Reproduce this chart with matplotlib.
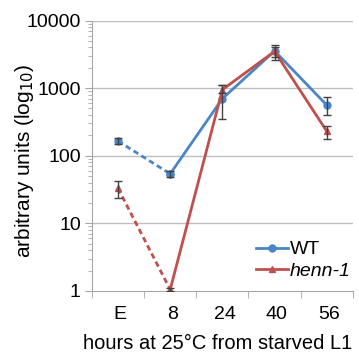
import matplotlib
matplotlib.use("Agg")
import matplotlib.pyplot as plt
import numpy as np
from matplotlib.ticker import FixedLocator, NullFormatter

plt.rcParams['font.family'] = ['Liberation Sans', 'DejaVu Sans']

# datos
categorias = ['E', '8', '24', '40', '56']
wt = [165, 54, 700, 3550, 560]
wt_bajo = [150, 48, 355, 2600, 400]
wt_alto = [185, 60, 1130, 4400, 730]
henn = [33, 1.05, 950, 3500, 230]
henn_bajo = [24, 1.0, 850, 2900, 175]
henn_alto = [43, 1.1, 1130, 4100, 275]

azul = '#4a86c6'
rojo = '#c0504d'
gris = '#404040'

x = np.arange(len(categorias))
wt = np.array(wt)
henn = np.array(henn)

fig = plt.figure(figsize=(3.59, 3.54), dpi=100)
ax = fig.add_axes([0.256, 0.178, 0.727, 0.764])
ax.set_yscale('log')
ax.set_ylim(1, 10000)
ax.set_xlim(-0.5, 4.5)

# lineas de rejilla
for v in [10, 100, 1000, 10000]:
    ax.axhline(v, color='#bfbfbf', linewidth=1, zorder=0)

# barras de error
ax.errorbar(x, wt, yerr=[wt - np.array(wt_bajo), np.array(wt_alto) - wt],
            fmt='none', ecolor=gris, elinewidth=1, capsize=3, capthick=1, zorder=4)
ax.errorbar(x, henn, yerr=[henn - np.array(henn_bajo), np.array(henn_alto) - henn],
            fmt='none', ecolor=gris, elinewidth=1, capsize=3, capthick=1, zorder=4)

# tramo punteado E -> 8
ax.plot(x[:2], wt[:2], color=azul, linestyle=(0, (2, 1.3)), linewidth=2, marker='o', markersize=5, zorder=3)
ax.plot(x[:2], henn[:2], color=rojo, linestyle=(0, (2, 1.3)), linewidth=2, marker='^', markersize=5, zorder=3)

# tramo continuo
ax.plot(x[1:], wt[1:], color=azul, linewidth=2, marker='o', markersize=5, zorder=3, label='WT')
ax.plot(x[1:], henn[1:], color=rojo, linewidth=2, marker='^', markersize=5, zorder=3, label='henn-1')

# ejes
for s in ['top', 'right']:
    ax.spines[s].set_visible(False)
ax.spines['left'].set_color('#a6a6a6')
ax.spines['bottom'].set_color('#a6a6a6')

ax.set_xticks(x + 0.04)
ax.set_xticklabels(categorias, fontsize=14)
ax.xaxis.set_minor_locator(FixedLocator(np.arange(-0.5, 5, 1)))
ax.tick_params(axis='x', which='major', length=0, pad=11)
ax.tick_params(axis='x', which='minor', length=5, color='#a6a6a6')

ax.set_yticks([1, 10, 100, 1000, 10000])
ax.set_yticklabels(['1', '10', '100', '1000', '10000'], fontsize=14)
ax.yaxis.set_minor_formatter(NullFormatter())
ax.tick_params(axis='y', which='major', length=5, color='#a6a6a6', pad=3)
ax.tick_params(axis='y', which='minor', length=3, color='#a6a6a6')

ax.set_ylabel('arbitrary units (log$_{10}$)', fontsize=15)
ax.yaxis.set_label_coords(-0.26, 0.48, transform=ax.transAxes)
ax.yaxis.label.set_verticalalignment('center')

ax.set_xlabel('hours at 25°C from starved L1', fontsize=14.5)
ax.xaxis.set_label_coords(-0.033, -0.16, transform=ax.transAxes)
ax.xaxis.label.set_horizontalalignment('left')
ax.xaxis.label.set_verticalalignment('top')

leg = ax.legend(loc='lower right', bbox_to_anchor=(1.02, 0.012), frameon=False, fontsize=14,
                handlelength=1.6, handletextpad=0.1, labelspacing=0.2, borderaxespad=0)
leg.get_texts()[1].set_style('italic')

fig.savefig('out.png', dpi=100)
